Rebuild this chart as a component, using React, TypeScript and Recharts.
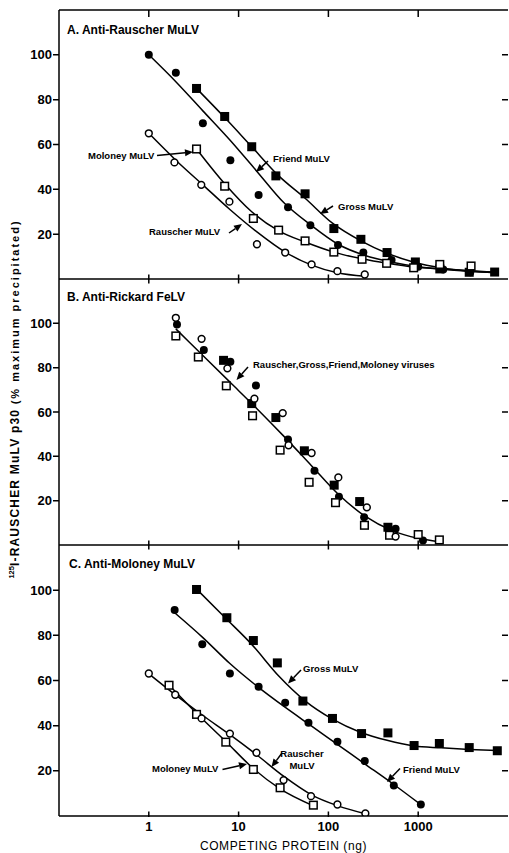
import React from "react";
import { ComposedChart, Line, Scatter, XAxis, YAxis } from "recharts";

document.body.style.margin = "0";

type Pt = { x: number; y: number };
const pts = (a: number[][]): Pt[] => a.map(([x, y]) => ({ x, y }));

const FONT = "'Liberation Sans', Arial, Helvetica, sans-serif";

// x axis (ng, log scale) and y axis ticks
const xDomain = [0.1, 10000];
const xTicks = [1, 10, 100, 1000];
const yTicks = [20, 40, 60, 80, 100];
const Y_MAX = 120;

// frame geometry (px): plot left/right, panel top/bottom edges
const LEFT = 59;
const PLOT_W = 449;
const DECADES = 5;
const panelEdges = [
  [10, 279],
  [279, 545],
  [545, 816],
];

// ---- A. Anti-Rauscher MuLV ----
const aFriendPts = pts([[1, 100], [2, 92], [4, 69.5], [8.1, 53], [16.7, 37.5], [35.5, 32], [63, 24], [128, 15.2], [245, 11.8], [505, 8.5], [1000, 5.5], [1900, 4.2], [3800, 3]]);
const aFriendCurve = pts([[1, 100], [2, 88], [4, 75], [8, 62], [16, 48], [32, 34], [64, 24], [128, 15.5], [256, 10.5], [512, 7.5], [1000, 5.5], [2000, 4.3], [4000, 3.3], [7000, 2.8]]);
const aGrossPts = pts([[3.4, 85], [7, 72.5], [14, 59], [26, 46], [55, 38], [115, 22.5], [230, 17.7], [450, 11.8], [930, 7.6], [1740, 4.5], [3700, 3], [7100, 3.1]]);
const aGrossCurve = pts([[3.4, 85], [7, 72], [14, 59], [28, 46], [55, 36], [110, 25], [230, 17], [450, 11.5], [900, 7.5], [1800, 5], [3600, 3.6], [7000, 3]]);
const aMoloneyPts = pts([[3.4, 58], [7, 41.4], [14.6, 27], [27.9, 21.8], [55, 17], [115, 12], [237, 8.8], [445, 7], [890, 5], [1740, 6.5], [3880, 5.8]]);
const aMoloneyCurve = pts([[3.4, 58], [7, 42.5], [14, 30], [28, 21.5], [55, 16.5], [115, 12], [237, 9], [450, 7], [900, 5.3], [1800, 4.5], [3600, 3.8], [7000, 3]]);
const aRauscherPts = pts([[1, 65], [1.93, 52], [3.84, 42], [7.9, 34.5], [16, 15.5], [33, 11.8], [65, 6.5], [126, 3.5], [254, 2]]);
const aRauscherCurve = pts([[1, 65], [2, 53], [4, 42], [8, 31], [16, 21], [33, 12], [65, 6.2], [126, 2.8], [254, 1.2]]);

// ---- B. Anti-Rickard FeLV ----
const bRauscherPts = pts([[2, 102.5], [3.87, 93], [7.5, 79.7], [15, 66], [31, 59.5], [36, 45], [65, 41.5], [129, 30.5], [268, 17], [560, 3.8]]);
const bFriendPts = pts([[2.06, 99.5], [4.1, 88], [8.1, 82.7], [15.6, 72], [35.5, 47.6], [70, 33.5], [131, 21.8], [250, 12.5], [560, 7.3], [1130, 2]]);
const bGrossPts = pts([[6.8, 83.3], [14, 63.8], [26, 57.5], [54, 42.5], [116, 27], [223, 19.6], [460, 8]]);
const bMoloneyPts = pts([[2, 94.3], [3.56, 84.8], [7.3, 71.8], [14.3, 58.3], [29, 42.8], [61, 28.3], [120, 19.1], [252, 8.9], [480, 4.4], [1000, 4.7], [1720, 2.3]]);
const bCurve = pts([[2, 97.5], [4, 85.5], [8, 73.5], [16, 61.5], [32, 49], [64, 36], [128, 23], [256, 13], [512, 6.5], [1000, 3], [1700, 1.5]]);

// ---- C. Anti-Moloney MuLV ----
const cGrossPts = pts([[3.4, 100.3], [7.4, 87.8], [14.6, 77.7], [27, 67.8], [52, 50.9], [111, 43.2], [234, 36.5], [460, 36.8], [900, 31.2], [1720, 32.1], [3700, 30.3], [7600, 28.9]]);
const cGrossCurve = pts([[3.4, 100.5], [7, 88], [14, 76], [28, 62], [55, 51], [110, 43], [230, 37], [450, 33.5], [900, 31], [1800, 30.2], [3700, 29.5], [7600, 29]]);
const cFriendPts = pts([[1.94, 91.2], [3.94, 76], [8, 63.1], [16.7, 57.2], [33, 50.1], [60, 41.3], [126, 32.9], [254, 24.3], [535, 13.5], [1070, 5.1]]);
const cFriendCurve = pts([[1.94, 90], [4, 79], [8, 67.5], [16, 57.5], [32, 48.5], [64, 40], [128, 31.5], [256, 23], [512, 14.5], [1070, 5]]);
const cRauscherPts = pts([[1, 63.1], [1.97, 53.7], [3.87, 43.2], [8, 36.5], [15.8, 28], [31.7, 15.9], [64, 8.8], [126, 5.1], [258, 1.1]]);
const cRauscherCurve = pts([[1, 63], [2, 53.5], [4, 44.5], [8, 36], [16, 27], [32, 17.5], [64, 9.5], [128, 4.5], [258, 1]]);
const cMoloneyPts = pts([[1.68, 57.9], [3.4, 45], [7.2, 32.7], [14.6, 20.6], [29, 12.5], [68, 4.8]]);
const cMoloneyCurve = pts([[1.68, 58], [3.4, 45.5], [7.2, 33], [14.6, 21], [29, 12], [68, 4.5]]);

const FilledCircle = (p: any) => <circle cx={p.cx} cy={p.cy} r={4} fill="#000" />;
const OpenCircle = (p: any) => (
  <circle cx={p.cx} cy={p.cy} r={3.4} fill="#fff" stroke="#000" strokeWidth={1.5} />
);
const FilledSquare = (p: any) => (
  <rect x={p.cx - 4.5} y={p.cy - 4.5} width={9} height={9} fill="#000" />
);
const OpenSquare = (p: any) => (
  <rect x={p.cx - 3.8} y={p.cy - 3.8} width={7.6} height={7.6} fill="#fff" stroke="#000" strokeWidth={1.5} />
);

const ink = { stroke: "#000", strokeWidth: 1.5, fill: "none" };

const YTick = ({ x, y, payload }: any) => (
  <text x={x - 7} y={y + 4.5} textAnchor="end" fontSize={13} fontWeight="bold" fontFamily={FONT}>
    {payload.value}
  </text>
);
const XLabelTick = ({ x, y, payload }: any) => (
  <text x={x} y={y + 15} textAnchor="middle" fontSize={13} fontWeight="bold" fontFamily={FONT}>
    {payload.value}
  </text>
);
const NoTick = () => <g />;

type Series = { data: Pt[]; shape: (p: any) => React.ReactElement };

function Panel(props: {
  height: number;
  mBottom: number;
  xHeight: number;
  shift: number;
  labels?: boolean;
  curves: Pt[][];
  marks: Series[];
}) {
  const { height, mBottom, xHeight, shift, labels, curves, marks } = props;
  return (
    <div style={{ marginTop: shift }}>
      <ComposedChart width={509} height={height} margin={{ top: 10, right: 1, bottom: mBottom, left: 0 }}>
        <XAxis
          dataKey="x"
          type="number"
          scale="log"
          domain={xDomain}
          ticks={xTicks}
          allowDataOverflow
          height={xHeight}
          tickSize={0}
          tickMargin={0}
          axisLine={false}
          tick={labels ? <XLabelTick /> : <NoTick />}
          label={
            labels
              ? {
                  value: "COMPETING PROTEIN (ng)",
                  position: "insideBottom",
                  offset: 3,
                  fontSize: 12,
                  fontFamily: FONT,
                  fill: "#000",
                  letterSpacing: 0.6,
                }
              : undefined
          }
        />
        <YAxis
          dataKey="y"
          type="number"
          domain={[0, Y_MAX]}
          ticks={yTicks}
          allowDataOverflow
          width={LEFT}
          tickSize={0}
          tickMargin={0}
          axisLine={false}
          tick={<YTick />}
        />
        {curves.map((c, i) => (
          <Line
            key={"c" + i}
            data={c}
            dataKey="y"
            type="monotone"
            stroke="#000"
            strokeWidth={1.5}
            dot={false}
            activeDot={false}
            isAnimationActive={false}
          />
        ))}
        {marks.map((m, i) => (
          <Scatter key={"m" + i} data={m.data} dataKey="y" shape={m.shape} isAnimationActive={false} />
        ))}
      </ComposedChart>
    </div>
  );
}

// axis frame and tick marks (same log / linear mapping as the charts above)
function Frame() {
  const right = LEFT + PLOT_W;
  const xAt = (v: number) => LEFT + (Math.log10(v) - Math.log10(xDomain[0])) * (PLOT_W / DECADES);
  const d: string[] = [];
  d.push(`M${LEFT},${panelEdges[0][0]}V${panelEdges[2][1]}`);
  d.push(`M${LEFT},${panelEdges[0][0]}H${right}`);
  panelEdges.forEach(([top, bottom], i) => {
    d.push(`M${LEFT},${bottom}H${right}`);
    yTicks.forEach((v) => {
      const y = bottom - (v * (bottom - top)) / Y_MAX;
      d.push(`M${LEFT - 6},${y}H${LEFT}`);
      d.push(`M${right - 6},${y}H${right}`);
    });
    xTicks.forEach((v) => {
      const x = xAt(v);
      d.push(`M${x},${bottom - 4.5}V${bottom + (i === 2 ? 1 : 4.5)}`);
      if (i === 0) d.push(`M${x},${top}v7`);
    });
  });
  return <path d={d.join("")} {...ink} />;
}

function Arrow({ x1, y1, x2, y2 }: { x1: number; y1: number; x2: number; y2: number }) {
  const a = Math.atan2(y2 - y1, x2 - x1);
  const L = 8;
  const W = 3.5;
  const bx = x2 - L * Math.cos(a);
  const by = y2 - L * Math.sin(a);
  const px = -Math.sin(a) * W;
  const py = Math.cos(a) * W;
  return (
    <g>
      <path d={`M${x1},${y1}L${bx},${by}`} {...ink} />
      <polygon points={`${x2},${y2} ${bx + px},${by + py} ${bx - px},${by - py}`} fill="#000" />
    </g>
  );
}

const Note = ({ x, y, children, anchor }: any) => (
  <text x={x} y={y} fontSize={9.5} fontWeight="bold" fontFamily={FONT} textAnchor={anchor || "start"}>
    {children}
  </text>
);
const Title = ({ x, y, children }: any) => (
  <text x={x} y={y} fontSize={12} fontWeight="bold" fontFamily={FONT}>
    {children}
  </text>
);

export default function App() {
  return (
    <div style={{ width: 509, height: 853, overflow: "hidden" }}>
      <Panel
        height={290}
        mBottom={11}
        xHeight={0}
        shift={0}
        curves={[aFriendCurve, aGrossCurve, aMoloneyCurve, aRauscherCurve]}
        marks={[
          { data: aFriendPts, shape: FilledCircle },
          { data: aGrossPts, shape: FilledSquare },
          { data: aMoloneyPts, shape: OpenSquare },
          { data: aRauscherPts, shape: OpenCircle },
        ]}
      />
      <Panel
        height={287}
        mBottom={11}
        xHeight={0}
        shift={-21}
        curves={[bCurve]}
        marks={[
          { data: bFriendPts, shape: FilledCircle },
          { data: bGrossPts, shape: FilledSquare },
          { data: bMoloneyPts, shape: OpenSquare },
          { data: bRauscherPts, shape: OpenCircle },
        ]}
      />
      <Panel
        height={318}
        mBottom={0}
        xHeight={37}
        shift={-21}
        labels
        curves={[cGrossCurve, cFriendCurve, cRauscherCurve, cMoloneyCurve]}
        marks={[
          { data: cFriendPts, shape: FilledCircle },
          { data: cGrossPts, shape: FilledSquare },
          { data: cMoloneyPts, shape: OpenSquare },
          { data: cRauscherPts, shape: OpenCircle },
        ]}
      />
      <svg width={509} height={853} style={{ position: "absolute", left: 0, top: 0, pointerEvents: "none" }}>
        <Frame />
        <text transform="rotate(-90 18.5 399)" x={18.5} y={399} textAnchor="middle" fontFamily={FONT} fontWeight="bold">
          <tspan fontSize={7.5} dy={-5}>125</tspan>
          <tspan fontSize={12} dy={5} letterSpacing={1.2}>I-RAUSCHER MuLV p30 </tspan>
          <tspan fontSize={11} letterSpacing={2}>(% maximum precipitated)</tspan>
        </text>

        <Title x={67} y={33.5}>A. Anti-Rauscher MuLV</Title>
        <Note x={88} y={159}>Moloney MuLV</Note>
        <Arrow x1={157} y1={155.5} x2={193} y2={152} />
        <Note x={273} y={162}>Friend MuLV</Note>
        <Arrow x1={268} y1={161} x2={256} y2={172} />
        <Note x={338} y={210}>Gross MuLV</Note>
        <Arrow x1={333} y1={206} x2={320} y2={214} />
        <Note x={149} y={234.5}>Rauscher MuLV</Note>
        <Arrow x1={229} y1={233} x2={242} y2={224} />

        <Title x={67} y={301}>B. Anti-Rickard FeLV</Title>
        <Note x={253} y={368}>Rauscher,Gross,Friend,Moloney viruses</Note>
        <Arrow x1={248} y1={367} x2={236.5} y2={380} />

        <Title x={69} y={568}>C. Anti-Moloney MuLV</Title>
        <Note x={303} y={671.5}>Gross MuLV</Note>
        <Arrow x1={301} y1={670} x2={288} y2={683.5} />
        <Note x={403} y={773}>Friend MuLV</Note>
        <Arrow x1={400} y1={768.5} x2={387} y2={782} />
        <Note x={302} y={757} anchor="middle">Rauscher</Note>
        <Note x={302} y={769} anchor="middle">MuLV</Note>
        <Arrow x1={282} y1={753} x2={271.5} y2={767} />
        <Note x={152} y={772}>Moloney MuLV</Note>
        <Arrow x1={222.5} y1={769.5} x2={247} y2={764} />
      </svg>
    </div>
  );
}
